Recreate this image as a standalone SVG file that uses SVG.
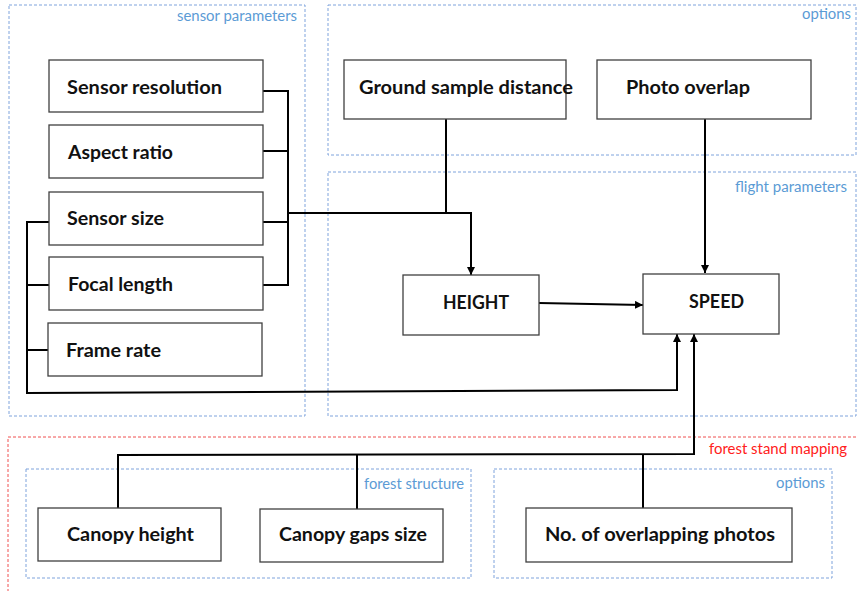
<svg xmlns="http://www.w3.org/2000/svg" width="857" height="591" viewBox="0 0 857 591">
<defs>
<style>
.grp{fill:none;stroke:#7fa3dc;stroke-width:1;stroke-dasharray:3 2}
.grpred{fill:none;stroke:#f05050;stroke-width:1;stroke-dasharray:3 2}
.glbl{font-family:Lato,"Liberation Sans",sans-serif;font-size:14.5px;fill:#5b9bd5;text-anchor:end}
.glblred{font-family:Lato,"Liberation Sans",sans-serif;font-size:14.5px;fill:#ff2020;text-anchor:end}
.box{fill:#fff;stroke:#404040;stroke-width:1.3}
.t{font-family:Lato,"Liberation Sans",sans-serif;font-size:19px;font-weight:bold;fill:#111}
.c{fill:none;stroke:#000;stroke-width:2}
</style>
<marker id="arr" viewBox="0 0 10 10" refX="10" refY="5" markerWidth="4" markerHeight="4" orient="auto" markerUnits="strokeWidth">
<path d="M0,0 L10,5 L0,10 z" fill="#000"/>
</marker>
</defs>
<rect width="857" height="591" fill="#fff"/>

<g id="groups">
<rect class="grp" x="9" y="5" width="296" height="411"/>
<text class="glbl" x="297" y="21" textLength="120" lengthAdjust="spacingAndGlyphs">sensor parameters</text>
<rect class="grp" x="328" y="5" width="528" height="150"/>
<text class="glbl" x="851" y="19" textLength="49" lengthAdjust="spacingAndGlyphs">options</text>
<rect class="grp" x="328" y="172" width="528" height="244"/>
<text class="glbl" x="847" y="192" textLength="112" lengthAdjust="spacingAndGlyphs">flight parameters</text>
<rect class="grpred" x="8" y="437" width="860" height="170"/>
<text class="glblred" x="847" y="454" textLength="138" lengthAdjust="spacingAndGlyphs">forest stand mapping</text>
<rect class="grp" x="26" y="469" width="445" height="109"/>
<text class="glbl" x="464" y="489" textLength="100" lengthAdjust="spacingAndGlyphs">forest structure</text>
<rect class="grp" x="494" y="469" width="338" height="109"/>
<text class="glbl" x="825" y="488" textLength="49" lengthAdjust="spacingAndGlyphs">options</text>
</g>

<g id="connectors">
<polyline class="c" points="263,91 288,91 288,285 263,285"/>
<line class="c" x1="263" y1="151" x2="288" y2="151"/>
<line class="c" x1="263" y1="222" x2="288" y2="222"/>
<polyline class="c" points="288,213 471,213 471,275" marker-end="url(#arr)"/>
<line class="c" x1="446" y1="119" x2="446" y2="213"/>
<line class="c" x1="705" y1="119" x2="705" y2="273" marker-end="url(#arr)"/>
<line class="c" x1="539" y1="303" x2="643" y2="305" marker-end="url(#arr)"/>
<polyline class="c" points="49,222 27,222 27,393 677,390 677,334" marker-end="url(#arr)"/>
<line class="c" x1="27" y1="285" x2="49" y2="285"/>
<line class="c" x1="27" y1="350" x2="48" y2="350"/>
<polyline class="c" points="694,420 694,454 118,455 118,508"/>
<line class="c" x1="694" y1="420" x2="694" y2="334" marker-end="url(#arr)"/>
<line class="c" x1="357" y1="455" x2="357" y2="509"/>
<line class="c" x1="643" y1="454" x2="643" y2="508"/>
</g>

<g id="sensor-resolution"><rect class="box" x="49" y="60" width="214" height="52"/><text class="t" x="67" y="94" textLength="155" lengthAdjust="spacingAndGlyphs">Sensor resolution</text></g>
<g id="aspect-ratio"><rect class="box" x="49" y="125" width="214" height="53"/><text class="t" x="68" y="159" textLength="105" lengthAdjust="spacingAndGlyphs">Aspect ratio</text></g>
<g id="sensor-size"><rect class="box" x="49" y="192" width="214" height="53"/><text class="t" x="67" y="225" textLength="97" lengthAdjust="spacingAndGlyphs">Sensor size</text></g>
<g id="focal-length"><rect class="box" x="49" y="257" width="214" height="53"/><text class="t" x="68" y="291" textLength="105" lengthAdjust="spacingAndGlyphs">Focal length</text></g>
<g id="frame-rate"><rect class="box" x="48" y="323" width="214" height="53"/><text class="t" x="66" y="357" textLength="95" lengthAdjust="spacingAndGlyphs">Frame rate</text></g>

<g id="ground-sample-distance"><rect class="box" x="344" y="60" width="222" height="59"/><text class="t" x="359" y="94" textLength="214" lengthAdjust="spacingAndGlyphs">Ground sample distance</text></g>
<g id="photo-overlap"><rect class="box" x="597" y="60" width="214" height="59"/><text class="t" x="626" y="94" textLength="124" lengthAdjust="spacingAndGlyphs">Photo overlap</text></g>

<g id="height"><rect class="box" x="403" y="275" width="136" height="60"/><text class="t" x="443" y="309" textLength="66" lengthAdjust="spacingAndGlyphs">HEIGHT</text></g>
<g id="speed"><rect class="box" x="643" y="274" width="136" height="60"/><text class="t" x="689" y="308" textLength="55" lengthAdjust="spacingAndGlyphs">SPEED</text></g>

<g id="canopy-height"><rect class="box" x="38" y="508" width="183" height="53"/><text class="t" x="67" y="541" textLength="127" lengthAdjust="spacingAndGlyphs">Canopy height</text></g>
<g id="canopy-gaps-size"><rect class="box" x="260" y="509" width="183" height="53"/><text class="t" x="279" y="541" textLength="148" lengthAdjust="spacingAndGlyphs">Canopy gaps size</text></g>
<g id="no-overlapping-photos"><rect class="box" x="526" y="508" width="266" height="54"/><text class="t" x="545" y="541" textLength="230" lengthAdjust="spacingAndGlyphs">No. of overlapping photos</text></g>
</svg>
